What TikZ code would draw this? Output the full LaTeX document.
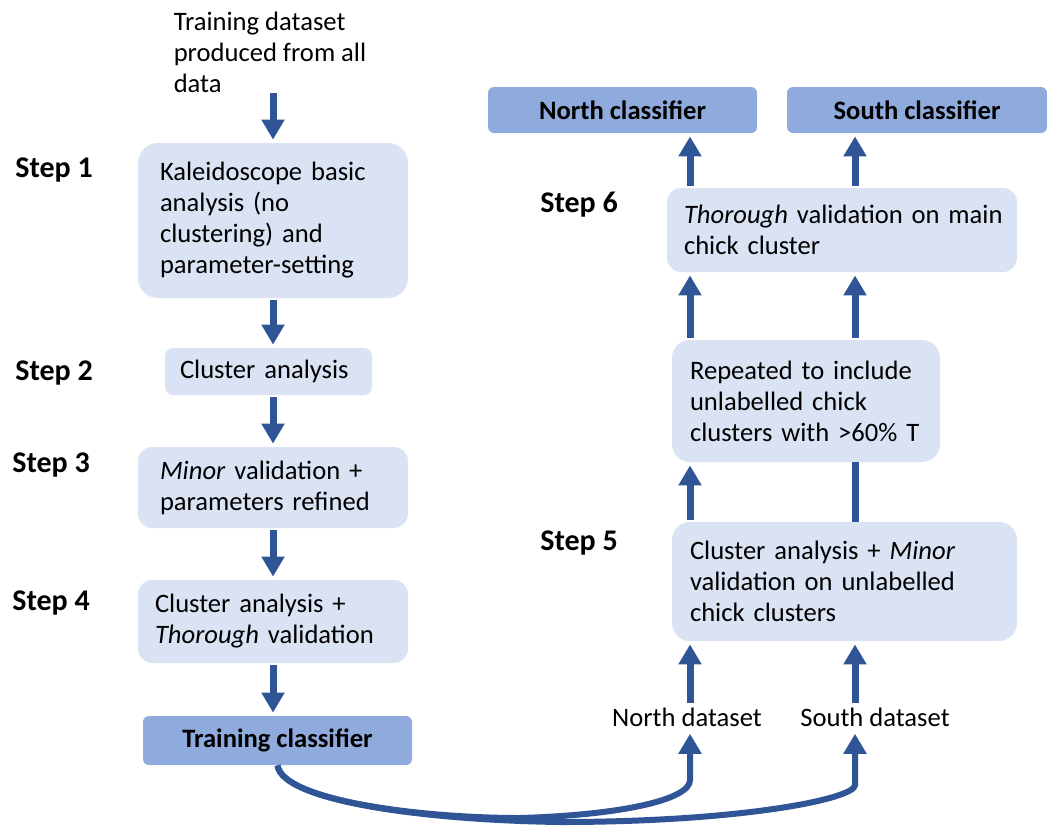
\documentclass[tikz,border=0pt]{standalone}
\usepackage{fontspec}
\setmainfont{Carlito}
\usepackage{tikz}
\usetikzlibrary{arrows.meta}

\definecolor{boxlight}{HTML}{DAE3F3}
\definecolor{boxdark}{HTML}{8FAADC}
\definecolor{flowblue}{HTML}{2F5597}

\begin{document}
\begin{tikzpicture}[x=0.5pt,y=-0.5pt,>={Triangle[length=10pt,width=11pt]},
                    font=\fontsize{13.3pt}{15.5pt}\selectfont,
                    stage box/.style={fill=boxlight,rounded corners=7pt,align=left,inner xsep=9pt,inner ysep=0pt},
                    out box/.style={fill=boxdark,rounded corners=3pt,inner sep=0pt,font=\fontsize{13.3pt}{15.5pt}\selectfont\bfseries},
                    step label/.style={anchor=west,inner sep=0pt,font=\fontsize{15pt}{18pt}\selectfont\bfseries},
                    flow/.style={->,draw=flowblue,line width=3.5pt,shorten >=1.5pt,shorten <=1pt}]

  \useasboundingbox (0,0) rectangle (1047,826);

  % left column
  \node[align=left,inner sep=0pt] (data) at (270,52) {Training dataset\\produced from all\\data};
  \node[stage box,minimum width=135pt,minimum height=77.5pt,text width=113pt,inner xsep=11pt,rounded corners=10pt] (s1) at (273,220.5) {Kaleidoscope basic\\analysis (no\\clustering) and\\parameter-setting};
  \node[stage box,minimum width=103.5pt,minimum height=23.5pt,text width=88.5pt,inner xsep=7.5pt,rounded corners=4pt] (s2) at (268.5,371.5) {Cluster analysis};
  \node[stage box,minimum width=135pt,minimum height=40.5pt,text width=113pt,inner xsep=11pt] (s3) at (273,487.5) {\textit{Minor} validation +\\parameters refined};
  \node[stage box,minimum width=135pt,minimum height=41.5pt,text width=118pt,inner xsep=8.5pt] (s4) at (273,621.5) {Cluster analysis +\\\textit{Thorough} validation};
  \node[out box,minimum width=134.5pt,minimum height=24.5pt] (train) at (277.5,740.5) {Training classifier};

  % right column
  \node[out box,minimum width=134.5pt,minimum height=23pt] (ncls) at (622.5,110) {North classifier};
  \node[out box,minimum width=130pt,minimum height=23pt] (scls) at (917,110) {South classifier};
  \node[stage box,minimum width=175pt,minimum height=42pt,text width=158pt,inner xsep=8.5pt] (s6) at (842,230) {\mbox{\textit{Thorough} validation on main}\\chick cluster};
  \node[stage box,minimum width=134pt,minimum height=61pt,text width=116pt,rounded corners=9pt] (rep) at (806,401) {Repeated to include\\unlabelled chick\\clusters with >60\% T};
  \node[stage box,minimum width=172.5pt,minimum height=59.5pt,text width=154.5pt,rounded corners=9pt] (s5) at (844.5,581.5) {Cluster analysis + \textit{Minor}\\validation on unlabelled\\chick clusters};
  \node[inner sep=0pt] (ndata) at (687,717) {North dataset};
  \node[inner sep=0pt] (sdata) at (875,717) {South dataset};

  \node[step label] (l1) at (15,170) {Step 1};
  \node[step label] (l2) at (15,373) {Step 2};
  \node[step label] (l3) at (12,465) {Step 3};
  \node[step label] (l4) at (12,603) {Step 4};
  \node[step label] (l5) at (540,543) {Step 5};
  \node[step label] (l6) at (540,205) {Step 6};

  \coordinate (ncol) at (690,0);
  \coordinate (scol) at (855,0);
  \coordinate (ndip) at (520,818);
  \coordinate (sdip) at (560,822);
  \coordinate (nbend) at (690,780);
  \coordinate (sbend) at (855,785);

  \draw[flow,shorten <=0pt] (data.south -| s1.north) -- (s1.north);
  \draw[flow] (s1.south) -- (s1.south |- s2.north);
  \draw[flow] (s1.south |- s2.south) -- (s1.south |- s3.north);
  \draw[flow] (s3.south) -- (s4.north);
  \draw[flow] (s4.south) -- (s4.south |- train.north);

  \draw[flow,shorten <=2pt] (ncol |- ndata.north) -- (ncol |- s5.south);
  \draw[flow,shorten <=2pt] (scol |- sdata.north) -- (scol |- s5.south);
  \draw[flow] (ncol |- s5.north) -- (ncol |- rep.south);
  \draw[flowblue,line width=3.5pt] (scol |- s5.north) -- (scol |- rep.south);
  \draw[flow] (ncol |- rep.north) -- (ncol |- s6.south);
  \draw[flow] (scol |- rep.north) -- (scol |- s6.south);
  \draw[flow] (ncol |- s6.north) -- (ncol |- ncls.south);
  \draw[flow] (scol |- s6.north) -- (scol |- scls.south);

  % split of the training data
  \draw[flow,line width=3pt,shorten <=0pt,shorten >=3.5pt] (train.south) .. controls +(5,35) and +(-100,0) .. (ndip)
      .. controls +(100,-3) and +(0,20) .. (nbend) -- (ncol |- ndata.south);
  \draw[flow,line width=3pt,shorten <=0pt,shorten >=3.5pt] (train.south) .. controls +(5,35) and +(-140,-2) .. (sdip)
      .. controls +(180,0) and +(0,14) .. (sbend) -- (scol |- sdata.south);
\end{tikzpicture}
\end{document}
